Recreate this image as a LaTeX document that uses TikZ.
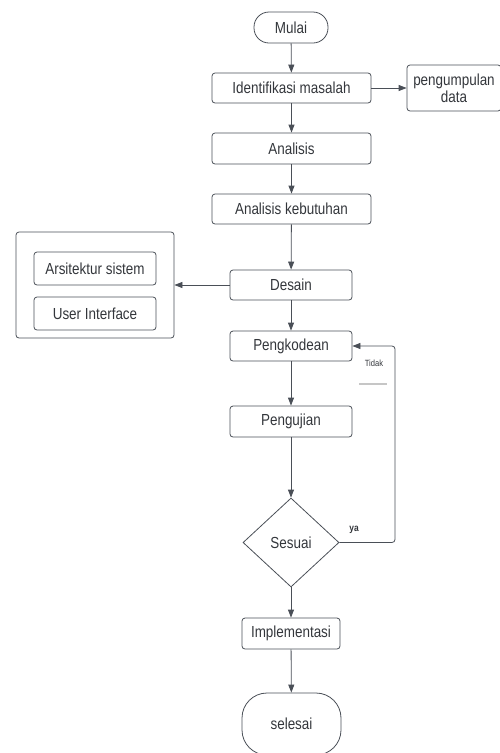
\documentclass[tikz,border=0pt]{standalone}
\usepackage{fontspec}
\setmainfont{Liberation Sans}[FakeStretch=0.84]
\usetikzlibrary{arrows.meta,shapes.geometric}
\definecolor{garis}{HTML}{4A4F57}
\definecolor{teks}{HTML}{33363B}
\begin{document}
\begin{tikzpicture}[x=1pt,y=-1pt,
            kotak/.style={draw=garis,line width=0.8pt,rounded corners=3pt,
                inner sep=0pt,text=teks,font=\fontsize{16}{17}\selectfont,align=center},
            mulaiselesai/.style={kotak,rounded corners=15pt},
            keputusan/.style={draw=garis,line width=0.8pt,diamond,inner sep=0pt,
                minimum width=96pt,minimum height=89pt,text=teks,font=\fontsize{16}{17}\selectfont},
            panah/.style={draw=garis,line width=0.8pt,-{Triangle[length=8pt,width=6pt]}}]
            \useasboundingbox (0,0) rectangle (500,753);
            \clip (0,0) rectangle (500,753);
            \node[mulaiselesai,minimum width=74pt,minimum height=31pt] (mulai) at (291,27.5) {Mulai};
            \node[kotak,minimum width=159pt,minimum height=30pt] (identifikasi) at (291.5,88) {Identifikasi masalah};
            \node[kotak,minimum width=94pt,minimum height=46pt] (pengumpulan) at (454,88) {pengumpulan\\data};
            \node[kotak,minimum width=159pt,minimum height=31pt] (analisis) at (291.5,148.5) {Analisis};
            \node[kotak,minimum width=159pt,minimum height=30pt] (kebutuhan) at (291.5,209) {Analisis kebutuhan};
            \node[kotak,minimum width=158pt,minimum height=106pt] (grup) at (95,285) {};
            \node[kotak,minimum width=122pt,minimum height=33pt] (arsitektur) at (95,268.5) {Arsitektur sistem};
            \node[kotak,minimum width=122pt,minimum height=33pt] (ui) at (95,313.5) {User Interface};
            \node[kotak,minimum width=122pt,minimum height=30pt] (desain) at (291,285) {Desain};
            \node[kotak,minimum width=122pt,minimum height=30pt] (pengkodean) at (291,346) {Pengkodean};
            \node[kotak,minimum width=122pt,minimum height=31pt] (pengujian) at (291,421.5) {Pengujian};
            \node[keputusan] (sesuai) at (291,542.5) {Sesuai};
            \node[kotak,minimum width=98pt,minimum height=31pt] (implementasi) at (291,633.5) {Implementasi};
            \node[mulaiselesai,rounded corners=25pt,minimum width=99pt,minimum height=62pt] (selesai) at (291.5,724) {selesai};
            \coordinate (belok) at (395,542.5);
            \draw[panah] (mulai) -- (identifikasi);
            \draw[panah] (identifikasi) -- (pengumpulan);
            \draw[panah] (identifikasi) -- (analisis);
            \draw[panah] (analisis) -- (kebutuhan);
            \draw[panah] (kebutuhan) -- (desain);
            \draw[panah] (desain) -- (grup);
            \draw[panah] (desain) -- (pengkodean);
            \draw[panah] (pengkodean) -- (pengujian);
            \draw[panah] (pengujian) -- (sesuai);
            \draw[panah,rounded corners=3pt] (sesuai.east) -- (belok) |- (pengkodean.east);
            \draw[panah] (sesuai) -- (implementasi);
            \draw[panah] (implementasi) -- (selesai);
            \node[text=teks,font=\fontsize{9}{10}\selectfont] (tidak) at (374,363) {Tidak};
            \node[text=teks,font=\bfseries\fontsize{10}{11}\selectfont] (ya) at (354,530) {ya};
            \draw[gray!45,line width=1.2pt] (359,384) -- (387,384);
\end{tikzpicture}
\end{document}
